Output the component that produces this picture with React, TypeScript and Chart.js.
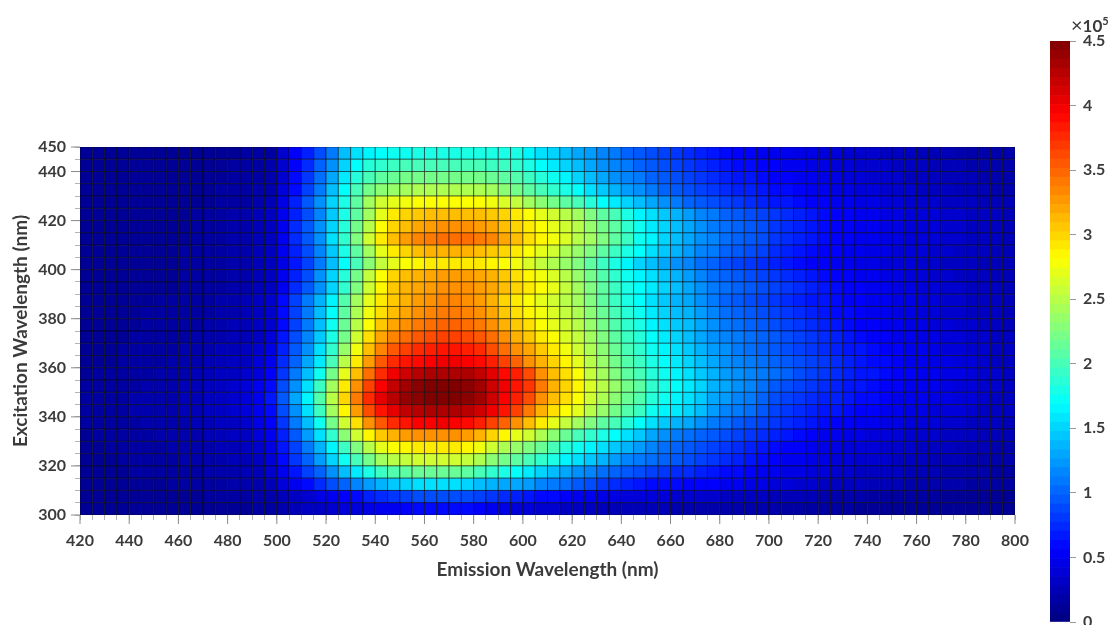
import React, { useEffect, useRef } from "react";
import { Chart, registerables } from "chart.js";
Chart.register(...registerables);

// Lower edge of each cell, nm. Intensities below are in units of 1e4 counts.
const emissionStart = [
  420,425,430,435,440,445,450,455,460,465,470,475,480,485,490,495,
  500,505,510,515,520,525,530,535,540,545,550,555,560,565,570,575,580,585,590,595,
  600,605,610,615,620,625,630,635,640,645,650,655,660,665,670,675,680,685,690,695,
  700,705,710,715,720,725,730,735,740,745,750,755,760,765,770,775,780,785,790,795,
];
const excitationStart = [445,440,435,430,425,420,415,410,405,400,395,390,385,380,375,370,365,360,355,350,345,340,335,330,325,320,315,310,305,300];

const ex445 = [1,1,1,1,1,1,1,1,1,1,1,1,1,1.5,1.5,1.5, 3.5,5.5,7,9,11,14,15.5,16.5,17,17.5, 17.5,18,18,18,18,18,18,18,18,18, 16.5,15.5,15,14,13,12.5,11.5,11,10,9.5, 9,8.5,8,7.5,7,6.5,6,5.5,5.5,5, 5,5,4.5,4.5,4,4,3.5,3.5,3.5,3, 3,3,2.5,2.5,2.5,2,2,2,2,2];
const ex440 = [1,1,1,1,1,1,1,1,1,1,1,1,1.5,1.5,1.5,2, 3.5,5.5,7.5,10,12,15,17,18.5,19,19.5, 20,20,20,20,20,20,20,19.5,19.5,19, 18,17,16,15,14,13,12,11.5,11,10, 9.5,9,8.5,8,7.5,7,6.5,6,6,5.5, 5.5,5,5,4.5,4.5,4,4,3.5,3.5,3.5, 3,3,3,2.5,2.5,2.5,2,2,2,2];
const ex435 = [1,1,1,1,1,1,1,1,1,1,1,1,1.5,1.5,1.5,2, 3.5,6,8,10.5,13,16,18.5,20,21,21.5, 22,22,22,22,22,22,22,21.5,21,20.5, 19.5,18.5,17.5,16.5,15,14,13,12,11.5,11, 10,9.5,9,8.5,8,7.5,7,6.5,6.5,6, 5.5,5.5,5,5,4.5,4.5,4,4,3.5,3.5, 3.5,3,3,3,2.5,2.5,2.5,2,2,2];
const ex430 = [1,1,1,1,1,1,1,1,1,1,1,1.5,1.5,1.5,2,2, 4,6,8.5,11,14,17,20,22,23,23.5, 24,24.5,24.5,24.5,24.5,24.5,24.5,24,23,22, 21,20,19,18,17,15.5,14.5,13.5,12.5,12, 11,10,9.5,9,8.5,8,7.5,7,7,6.5, 6,6,5.5,5,5,4.5,4.5,4,4,3.5, 3.5,3.5,3,3,3,2.5,2.5,2.5,2,2];
const ex425 = [1,1,1,1,1,1,1,1,1,1,1,1.5,1.5,1.5,2,2.5, 4.5,7,9.5,12,15,18,21,24,26,27, 27.5,28,28,28,28,28,28,27.5,26.5,25.5, 24,23,22,21,20,18.5,17,16,15,14, 13,12,11,10,9.5,9,8.5,8,7.5,7, 6.5,6.5,6,5.5,5.5,5,5,4.5,4.5,4, 4,3.5,3.5,3.5,3,3,3,2.5,2.5,2.5];
const ex420 = [1,1,1,1,1,1,1,1,1,1.5,1.5,1.5,2,2,2.5,3, 5,7,9,11.5,14.5,18,21,24,27,29, 30,30.5,31,31,31,31,31,30.5,30,29, 28,27,26,25,24,22.5,21,20,18,16.5, 15.5,14.5,13.5,12.5,11.5,11,10,9.5,9,8.5, 8,7.5,7,6.5,6,5.5,5.5,5,5,4.5, 4.5,4,4,4,3.5,3.5,3,3,3,2.5];
const ex415 = [1,1,1,1,1,1,1,1,1,1.5,1.5,1.5,2,2,2.5,3, 5,7.5,9.5,12,15,18.5,22,25,28,30, 31,32,32.5,33,33,33,32.5,32,31,30, 29,28,27,26,25,23.5,22,21,19,17.5, 16,15,14,13,12,11,10.5,10,9.5,9, 8,7.5,7,6.5,6,5.5,5.5,5,5,4.5, 4.5,4,4,4,3.5,3.5,3,3,3,2.5];
const ex410 = [1,1,1,1,1,1,1,1,1,1.5,1.5,1.5,2,2,2.5,3, 5,7.5,9.5,12,15.5,19,22.5,26,29,31, 32.5,33.5,34,34.5,34.5,34.5,34,33.5,32,31, 29.5,28.5,27.5,26.5,25,24,22.5,21,19.5,17.5, 16.5,15,14,13,12,11.5,10.5,10,9.5,9, 8,7.5,7,6.5,6,5.5,5.5,5,5,4.5, 4.5,4,4,4,3.5,3.5,3,3,3,2.5];
const ex405 = [1,1,1,1,1,1,1,1,1.5,1.5,1.5,1.5,2,2,2.5,3, 5,7,9,11.5,14.5,18,21,24,27,29, 30,31,31.5,31.5,31.5,31.5,31,30.5,30,29, 28,27,26,24.5,23.5,22.5,21,19.5,18,17, 15.5,14.5,13.5,12.5,11.5,11,10,9.5,9,8.5, 7.5,7,6.5,6,5.5,5.5,5,5,4.5,4.5, 4,4,4,3.5,3.5,3,3,3,2.5,2.5];
const ex400 = [1,1,1,1,1,1,1,1,1.5,1.5,1.5,1.5,2,2,2.5,3, 4.5,6.5,8.5,11,14,17,20,23,25.5,27, 28,28.5,29,29,29,29,29,28.5,28,27.5, 26.5,25.5,24.5,23.5,22.5,21,19.5,18,16.5,15, 14,13,12,11.5,10.5,10,9,8.5,8,7.5, 7,6.5,6,5.5,5.5,5,5,4.5,4.5,4, 4,4,3.5,3.5,3,3,3,2.5,2.5,2.5];
const ex395 = [1,1,1,1,1,1,1,1,1.5,1.5,1.5,1.5,2,2,2.5,3, 5,7,9,12,15,18.5,22,25.5,28,30, 31,31.5,32,32.5,32.5,32.5,32,31.5,30.5,29.5, 28.5,27.5,26.5,25,23.5,22,20.5,19,17.5,16.5, 15.5,14.5,13.5,12.5,11.5,10.5,10,9.5,9,8.5, 8,7.5,7,6.5,6,5.5,5.5,5,5,4.5, 4.5,4,4,3.5,3.5,3,3,3,2.5,2.5];
const ex390 = [1,1,1,1,1,1,1,1,1.5,1.5,1.5,1.5,2,2,2.5,3, 5,7.5,9.5,12,15,19,22.5,26,28.5,30.5, 31.5,32,32.5,33,33,33,32.5,32,31,30, 29,28,27,25.5,24,22.5,21,19.5,18,17, 16,15,14,13,12,11,10.5,10,9.5,9, 8.5,8,7.5,7,6.5,6,5.5,5.5,5,5, 4.5,4.5,4,4,3.5,3.5,3,3,3,2.5];
const ex385 = [1,1,1,1,1,1,1.5,1.5,1.5,1.5,1.5,2,2,2.5,3,3.5, 6,8.5,11,13.5,16.5,20.5,24,27,29,30.5, 31.5,32.5,33,33.5,33.5,33,32.5,31.5,30,29, 28,27,26,25,24,22.5,21,19.5,18,17, 15.5,14.5,13.5,13,12,11,10,9.5,9,8.5, 8,7.5,7,6.5,6.5,6,5.5,5.5,5,5, 4.5,4.5,4,4,3.5,3.5,3,3,3,2.5];
const ex380 = [1,1,1,1,1,1.5,1.5,1.5,1.5,1.5,1.5,2,2,2.5,3,3.5, 6,8.5,11,14,17,21,24.5,27.5,29.5,31, 32,33,33.5,34,34,33.5,33,32,30.5,29.5, 28.5,27.5,26.5,25.5,24.5,23,21.5,20,18.5,17.5, 16,15,14,13.5,12.5,11.5,10.5,10,9.5,9, 8.5,8,7.5,7,6.5,6,6,5.5,5,5, 4.5,4.5,4,4,3.5,3.5,3,3,3,2.5];
const ex375 = [1,1,1,1,1,1.5,1.5,1.5,1.5,1.5,2,2,2.5,2.5,3,3.5, 6,8.5,11,14,17.5,21.5,25,28,30.5,32, 33,34,34.5,35,35,34.5,34,33,31.5,30.5, 29.5,28,27,26,25,23.5,22,20.5,19,18, 16.5,15.5,14.5,14,13,12,11,10.5,10,9.5, 9,8.5,8,7.5,7,6.5,6,5.5,5.5,5, 5,4.5,4.5,4,4,3.5,3.5,3,3,2.5];
const ex370 = [1,1,1,1,1.5,1.5,1.5,1.5,1.5,2,2,2,2.5,2.5,3,4, 6.5,9,11.5,14.5,18,22,26,29.5,32,33.5, 34.5,35.5,36,36.5,36.5,36,35.5,34.5,33,31.5, 30.5,29,28,26.5,25.5,24,22.5,21,19.5,18.5, 17,16,15,14,13,12,11.5,11,10.5,10, 9.5,9,8.5,8,7.5,7,6.5,6,5.5,5.5, 5,5,4.5,4.5,4,4,3.5,3.5,3,3];
const ex365 = [1,1,1,1.5,1.5,1.5,1.5,1.5,2,2,2,2.5,2.5,3,3.5,4.5, 7,9.5,12,15.5,19,23.5,27.5,31,33.5,35.5, 36.5,37.5,38,38.5,38.5,38,37.5,36,34.5,33, 32,30.5,29,27.5,26,24.5,23,21.5,20,19, 17.5,16.5,15.5,14.5,13.5,12.5,12,11,10.5,10, 9.5,9,8.5,8,7.5,7,6.5,6.5,6,5.5, 5.5,5,5,4.5,4,4,3.5,3.5,3,3];
const ex360 = [1,1,1,1.5,1.5,1.5,1.5,2,2,2,2.5,2.5,3,3,4,5, 7.5,10,13,16,20,25,29,32.5,35.5,37.5, 38.5,39,39.5,40,40,39.5,39,38,36.5,35, 33,31.5,30,28.5,27,25,23.5,22,20.5,19.5, 18,17,16,15,14,13,12,11.5,11,10.5, 10,9.5,9,8.5,8,7.5,7,6.5,6,6, 5.5,5,5,4.5,4.5,4,4,3.5,3,3];
const ex355 = [1,1.5,1.5,1.5,1.5,1.5,2,2,2,2.5,2.5,3,3,3.5,4,5.5, 8,11,14,17.5,22,27,31,34.5,37.5,40, 41.5,42.5,43,43,43,43,42,40.5,39,38, 36,33,31,29.5,28,25.5,24,22.5,21,20, 18.5,17.5,16.5,15.5,14.5,13.5,12.5,12,11.5,11, 10.5,10,9,8.5,8,7.5,7,6.5,6.5,6, 5.5,5.5,5,5,4.5,4.5,4,3.5,3.5,3];
const ex350 = [1.5,1.5,1.5,1.5,1.5,2,2,2,2.5,2.5,3,3,3.5,4,5,6, 9,12,15.5,19.5,24,29,33,36.5,39.5,42, 43.5,44.5,45,45,45,44.5,43.5,41.5,40,38.5, 37,34,31.5,30,28.5,26.5,25,23.5,22,21, 19,18,17,16,15,13.5,13,12,11.5,10.5, 9.5,9,8.5,8,7.5,7,6.5,6.5,6,5.5, 5.5,5,5,5,4.5,4,4,3.5,3.5,3];
const ex345 = [1.5,1.5,1.5,1.5,2,2,2,2,2.5,2.5,3,3,3.5,4,5,6.5, 9.5,13,16.5,20.5,25,30,34,37.5,40.5,42.5, 44,44.5,45,45,45,44.5,43.5,41.5,39.5,38, 36,33,31,29.5,28,26,24.5,23,21.5,20.5, 18.5,17.5,16.5,15.5,14.5,13,12.5,11.5,11,10, 9,8.5,8,7.5,7,7,6.5,6,6,5.5, 5,5,5,4.5,4.5,4,4,3.5,3,3];
const ex340 = [1.5,1.5,1.5,1.5,2,2,2,2,2.5,2.5,3,3,3.5,4,5,6, 9,12,15.5,19.5,24,28.5,32.5,36,38.5,40.5, 42,42.5,43,43,43,42.5,41.5,40,38.5,36.5, 34,31.5,29.5,28,27,25,23.5,22,20.5,19.5, 17.5,16.5,16,15,14,12.5,11.5,11,10.5,9.5, 8.5,8,7.5,7,6.5,6.5,6,5.5,5.5,5, 5,4.5,4.5,4,4,4,3.5,3,3,3];
const ex335 = [1.5,1.5,1.5,1.5,1.5,2,2,2,2,2.5,2.5,3,3,3.5,4.5,5.5, 8,11,14,17.5,22,26,29.5,33,35.5,37.5, 38.5,39.5,39.5,40,39.5,39,38,36.5,35,33, 31,29,27,25.5,24,22.5,21,20,18.5,17, 15.5,14.5,13.5,13,12,11,10.5,9.5,9,8.5, 8,7.5,7,6.5,6,5.5,5.5,5,5,4.5, 4.5,4,4,4,3.5,3.5,3,3,3,2.5];
const ex330 = [1,1.5,1.5,1.5,1.5,1.5,2,2,2,2,2.5,2.5,3,3,4,5, 7,9.5,12.5,15.5,19,23,26,28.5,30.5,31.5, 32.5,33,33,33,33,32.5,31.5,30,28.5,27, 26,24.5,23,21.5,20,19,18,17,15.5,14.5, 13,12,11,10.5,10,9.5,9,8.5,8,7.5, 7,6.5,6,5.5,5,5,4.5,4.5,4,4, 4,3.5,3.5,3.5,3,3,3,2.5,2.5,2.5];
const ex325 = [1,1,1.5,1.5,1.5,1.5,1.5,2,2,2,2,2.5,2.5,3,3.5,4.5, 6.5,8.5,11,13.5,16.5,19.5,22.5,25,27,28, 28.5,29,29,29,29,28.5,27.5,26,24.5,23.5, 22.5,21.5,20,18.5,17.5,16.5,15.5,14.5,13.5,12.5, 11.5,10.5,10,9.5,9,8.5,8,7.5,7,6.5, 6,5.5,5.5,5,4.5,4.5,4,4,4,3.5, 3.5,3.5,3,3,3,2.5,2.5,2.5,2,2];
const ex320 = [1,1,1,1.5,1.5,1.5,1.5,1.5,2,2,2,2,2.5,2.5,3,4, 6,8,10,12.5,15,17.5,20,22,24,25, 25.5,26,26,26,26,25.5,24.5,23,22,21, 20,19,18,16.5,15.5,14.5,13.5,12.5,11.5,11, 10.5,10,9.5,9,8.5,8,7.5,7,6.5,6, 5.5,5,5,4.5,4.5,4,4,3.5,3.5,3.5, 3,3,3,2.5,2.5,2.5,2,2,2,2];
const ex315 = [1,1,1,1,1.5,1.5,1.5,1.5,1.5,1.5,2,2,2,2.5,2.5,3.5, 5,6.5,8.5,10,12,14,16,18,19.5,20.5, 21,21.5,21.5,21.5,21.5,21,20,19,18,17, 16,15,14,13,12,11.5,10.5,10,9.5,9, 8.5,8,7.5,7.5,7,6.5,6,6,5.5,5, 5,4.5,4.5,4,4,3.5,3.5,3,3,3, 3,2.5,2.5,2.5,2,2,2,2,1.5,1.5];
const ex310 = [1,1,1,1,1,1,1,1.5,1.5,1.5,1.5,1.5,2,2,2,2.5, 4,5,6,7.5,9,10,11.5,12.5,13.5,14.5, 15,15.5,15.5,15.5,15.5,15,14,13.5,13,13, 12.5,11.5,11,10.5,9.5,9,8,7.5,7,6.5, 6,6,6,5.5,5.5,5.5,5,5,4.5,4.5, 4,4,3.5,3.5,3,3,3,3,2.5,2.5, 2.5,2,2,2,2,2,1.5,1.5,1.5,1.5];
const ex305 = [1,1,1,1,1,1,1,1,1,1,1.5,1.5,1.5,1.5,2,2, 2.5,3,3.5,4.5,5,5.5,6,7,7.5,8, 8.5,9,9,9,9,9,8.5,8,7.5,7, 6.5,6,6,5.5,5,5,4.5,4.5,4,4, 4,4,3.5,3.5,3.5,3.5,3,3,3,3, 2.5,2.5,2.5,2.5,2,2,2,2,1.5,1.5, 1.5,1.5,1.5,1.5,1,1,1,1,1,1];
const ex300 = [1,1,1,1,1,1,1,1,1,1,1,1,1,1,1.5,1.5, 2,2.5,3,3,3.5,4,4,4.5,5,5, 5.5,6,6,6,6,6,5.5,5,4.5,4, 4,3.5,3.5,3,3,3,2.5,2.5,2.5,2.5, 2.5,2.5,2,2,2,2,2,2,2,2, 2,1.5,1.5,1.5,1.5,1.5,1.5,1,1,1, 1,1,1,1,1,1,1,1,1,1];

const intensityRows = [ex445,ex440,ex435,ex430,ex425,ex420,ex415,ex410,ex405,ex400,ex395,ex390,ex385,ex380,ex375,ex370,ex365,ex360,ex355,ex350,ex345,ex340,ex335,ex330,ex325,ex320,ex315,ex310,ex305,ex300];
const colorbarTicks = [0, 0.5, 1, 1.5, 2, 2.5, 3, 3.5, 4, 4.5];
const FONT = "Lato";
const TEXT = "#3b3b3b";

const clamp = (v: number) => Math.max(0, Math.min(1, v));
function jet(t: number) {
  const r = clamp(Math.min(4 * t - 1.5, -4 * t + 4.5));
  const g = clamp(Math.min(4 * t - 0.5, -4 * t + 3.5));
  const b = clamp(Math.min(4 * t + 0.5, -4 * t + 2.5));
  return `rgb(${Math.round(r * 255)},${Math.round(g * 255)},${Math.round(b * 255)})`;
}

const majorTicks = {
  id: "majorTicks",
  afterDraw(chart: any) {
    const { ctx, scales, chartArea } = chart;
    if (!scales.x) return;
    ctx.save();
    ctx.strokeStyle = "#8a8a8a";
    ctx.lineWidth = 1;
    ctx.beginPath();
    scales.x.ticks.forEach((t: any) => {
      if (t.value % 20 === 0) {
        const p = scales.x.getPixelForValue(t.value);
        ctx.moveTo(p, chartArea.bottom);
        ctx.lineTo(p, chartArea.bottom + 9);
      }
    });
    scales.y.ticks.forEach((t: any) => {
      if (t.value % 20 === 0 || t.value === 450) {
        const p = scales.y.getPixelForValue(t.value);
        ctx.moveTo(chartArea.left, p);
        ctx.lineTo(chartArea.left - 9, p);
      }
    });
    ctx.stroke();
    ctx.restore();
  },
};

export default function App() {
  const mainRef = useRef<HTMLCanvasElement>(null);
  const barRef = useRef<HTMLCanvasElement>(null);

  useEffect(() => {
    const cells: { x: number; y: number }[] = [];
    const colors: string[] = [];
    intensityRows.forEach((row, r) => {
      row.forEach((v, c) => {
        cells.push({ x: emissionStart[c] + 2.5, y: excitationStart[r] + 2.5 });
        colors.push(jet(v / 45));
      });
    });

    const tickFont = { family: FONT, size: 16, weight: "bold" as const };
    const titleFont = { family: FONT, size: 19, weight: "bold" as const };

    const main = new Chart(mainRef.current!, {
      type: "scatter",
      data: {
        datasets: [
          {
            data: cells,
            pointStyle: "rect",
            pointRadius: 8.7,
            pointHoverRadius: 8.7,
            pointBackgroundColor: colors,
            pointBorderColor: "rgba(0,0,0,0.5)",
            pointBorderWidth: 1,
          },
        ],
      },
      options: {
        animation: false,
        responsive: false,
        events: [],
        layout: { padding: { left: 0, top: 147, right: 97, bottom: 0 } },
        plugins: { legend: { display: false }, tooltip: { enabled: false } },
        scales: {
          x: {
            type: "linear",
            min: 420,
            max: 800,
            afterFit: (s: any) => { s.height = 110; },
            afterBuildTicks: (s: any) => {
              s.ticks = emissionStart.map((value) => ({ value })).concat([{ value: 800 }]);
            },
            ticks: {
              autoSkip: false,
              maxRotation: 0,
              padding: 11,
              color: TEXT,
              font: tickFont,
              callback: (v: any) => (Number(v) % 20 === 0 ? String(v) : ""),
            },
            grid: { drawOnChartArea: false, color: "#b5b5b5", tickLength: 5 },
            border: { display: false },
            title: {
              display: true,
              text: "Emission Wavelength (nm)",
              color: TEXT,
              font: titleFont,
              padding: { top: 0, bottom: 44 },
            },
          },
          y: {
            type: "linear",
            min: 300,
            max: 450,
            afterFit: (s: any) => { s.width = 80; },
            afterBuildTicks: (s: any) => {
              s.ticks = excitationStart.map((value) => ({ value })).concat([{ value: 450 }]);
            },
            ticks: {
              autoSkip: false,
              padding: 9,
              color: TEXT,
              font: tickFont,
              callback: (v: any) => (Number(v) % 20 === 0 || Number(v) === 450 ? String(v) : ""),
            },
            grid: { drawOnChartArea: false, color: "#b5b5b5", tickLength: 5 },
            border: { display: false },
            title: {
              display: true,
              text: "Excitation Wavelength (nm)",
              color: TEXT,
              font: titleFont,
              padding: { top: 9, bottom: 0 },
            },
          },
        },
      },
      plugins: [majorTicks],
    } as any);

    const levels = Array.from({ length: 64 }, (_, i) => i);
    const bar = new Chart(barRef.current!, {
      type: "bar",
      data: {
        labels: ["scale"],
        datasets: levels.map((i) => ({
          data: [[(i * 4.5) / 64, ((i + 1) * 4.5) / 64]],
          backgroundColor: jet((i + 0.5) / 64),
          borderWidth: 0,
          grouped: false,
          barPercentage: 1,
          categoryPercentage: 1,
        })),
      },
      options: {
        animation: false,
        responsive: false,
        events: [],
        layout: { padding: { left: 1050, top: 41, right: 0, bottom: 3 } },
        plugins: { legend: { display: false }, tooltip: { enabled: false } },
        scales: {
          x: { display: false },
          y: {
            position: "right",
            min: 0,
            max: 4.5,
            afterBuildTicks: (s: any) => { s.ticks = colorbarTicks.map((value) => ({ value })); },
            afterFit: (s: any) => { s.width = 42; s.paddingTop = 0; s.paddingBottom = 0; },
            ticks: { autoSkip: false, padding: 7, color: TEXT, font: tickFont, callback: (v: any) => String(v) },
            grid: { drawOnChartArea: false, color: "#9a9a9a", tickLength: 6 },
            border: { display: false },
          },
        },
      },
    } as any);

    return () => { main.destroy(); bar.destroy(); };
  }, []);

  const layer: React.CSSProperties = { position: "fixed", left: 0, top: 0, display: "block" };
  return (
    <div>
      <canvas ref={mainRef} width={1112} height={625} style={layer} />
      <canvas ref={barRef} width={1112} height={625} style={layer} />
      <div style={{ position: "fixed", left: 1071, top: 14, fontFamily: FONT, fontSize: 17, color: TEXT, whiteSpace: "nowrap", lineHeight: "20px" }}>
        <span style={{ fontWeight: 400, fontSize: 20 }}>×</span>
        <span style={{ fontWeight: 700 }}>10</span>
        <span style={{ fontWeight: 700, fontSize: 11, position: "relative", top: -7 }}>5</span>
      </div>
    </div>
  );
}
